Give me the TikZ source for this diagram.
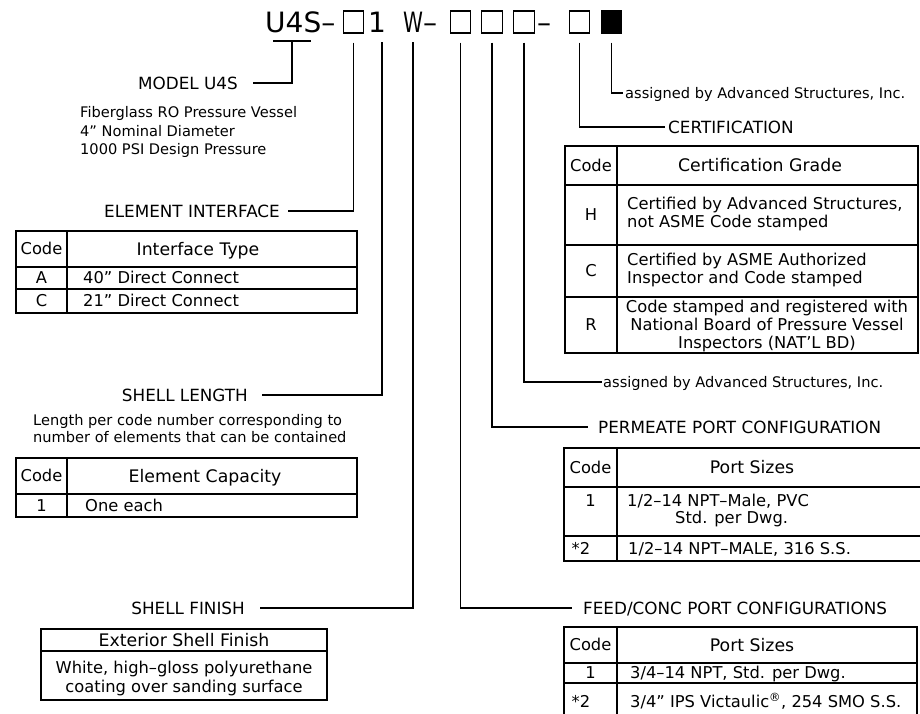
\documentclass[tikz,border=0pt]{standalone}
\usepackage{fontspec}
\setmainfont{DejaVu Sans}
\usepackage{graphicx}
\begin{document}
\begin{tikzpicture}[x=1pt,y=-1pt,
  ln/.style={line width=1.1pt},
  tbl/.style={line width=1.1pt},
  lbl/.style={font=\fontsize{16.8}{20}\selectfont, inner sep=0pt, text height=12.2pt, text depth=0pt},
  desc/.style={font=\fontsize{14.6}{18}\selectfont, inner sep=0pt, text height=10.6pt, text depth=0pt},
  tb/.style={font=\fontsize{16.3}{19}\selectfont, inner sep=0pt, text height=11.9pt, text depth=0pt},
  th/.style={font=\fontsize{17.3}{20}\selectfont, inner sep=0pt, text height=12.6pt, text depth=0pt},
  big/.style={font=\fontsize{28}{32}\selectfont, inner sep=0pt, text height=20.4pt, text depth=0pt},
  codebox/.style={draw, line width=1.1pt, minimum width=20.5pt, minimum height=22pt, inner sep=0pt},
  filledbox/.style={codebox, fill=black}
]
\useasboundingbox (0,0) rectangle (920,713);

% ---------- model code ----------
\node[big, anchor=west] (u4s) at (265,22) {U4S–};
\node[codebox] (b1) at (353.5,22) {};
\node[big] (one) at (377,22) {1};
\node[big, anchor=west] (w) at (403,22) {\scalebox{0.72}[1]{W}–};
\node[codebox] (b2) at (460.5,22) {};
\node[codebox] (b3) at (492,22) {};
\node[codebox] (b4) at (524,22) {};
\node[big] (dash) at (544,22) {–};
\node[codebox] (b5) at (579.5,22) {};
\node[filledbox] (b6) at (611.5,22) {};

\coordinate (tm) at (292,41);
\coordinate (tl) at (382,42);
\coordinate (tw) at (413,42);

% ---------- left labels ----------
\node[lbl, anchor=east] (model) at (238,83) {MODEL U4S};
\node[desc, anchor=west] (fib1) at (80,112) {Fiberglass RO Pressure Vessel};
\node[desc, anchor=west] (fib2) at (80,131) {4” Nominal Diameter};
\node[desc, anchor=west] (fib3) at (80,149) {1000 PSI Design Pressure};

\node[lbl, anchor=east] (ei) at (280,211) {ELEMENT INTERFACE};
\draw[tbl] (16,231) rectangle (357,313);
\draw[tbl] (16,267) -- (357,267) (16,289) -- (357,289) (67,231) -- (67,313);
\node[tb] (eic) at (41.5,249) {Code};
\node[th] (eih) at (198,249) {Interface Type};
\node[tb] (eia) at (41.5,278) {A};
\node[tb, anchor=west] (eiat) at (83,278) {40” Direct Connect};
\node[tb] (eicc) at (41.5,301) {C};
\node[tb, anchor=west] (eict) at (83,301) {21” Direct Connect};

\node[lbl, anchor=east] (sl) at (248,395) {SHELL LENGTH};
\node[desc, anchor=west] (sl1) at (33,420) {Length per code number corresponding to};
\node[desc, anchor=west] (sl2) at (33,437) {number of elements that can be contained};
\draw[tbl] (16,458) rectangle (357,517);
\draw[tbl] (16,494) -- (357,494) (67,458) -- (67,517);
\node[tb] (slc) at (41.5,476) {Code};
\node[th] (slh) at (205,476) {Element Capacity};
\node[tb] (sl1c) at (41.5,505.5) {1};
\node[tb, anchor=west] (sl1t) at (85,505.5) {One each};

\node[lbl, anchor=east] (sf) at (245,608) {SHELL FINISH};
\draw[tbl] (41,629) rectangle (327,700);
\draw[tbl] (41,651) -- (327,651);
\node[th] (sfh) at (184,640) {Exterior Shell Finish};
\node[tb] (sf1) at (184,668) {White, high–gloss polyurethane};
\node[tb] (sf2) at (184,687) {coating over sanding surface};

% ---------- right labels ----------
\node[desc, anchor=west] (as1) at (625,93) {assigned by Advanced Structures, Inc.};
\node[lbl, anchor=west] (cert) at (668,127) {CERTIFICATION};
\draw[tbl] (565,146) rectangle (918,353);
\draw[tbl] (565,185) -- (918,185) (565,245) -- (918,245) (565,297) -- (918,297) (617,146) -- (617,353);
\node[tb] (cc) at (591,165.5) {Code};
\node[th] (ch) at (760,165.5) {Certification Grade};
\node[tb] (chh) at (591,215) {H};
\node[tb, anchor=west] (ch1) at (627,204) {Certified by Advanced Structures,};
\node[tb, anchor=west] (ch2) at (627,222) {not ASME Code stamped};
\node[tb] (ccc) at (591,271) {C};
\node[tb, anchor=west] (cc1) at (627,260) {Certified by ASME Authorized};
\node[tb, anchor=west] (cc2) at (627,278) {Inspector and Code stamped};
\node[tb] (crr) at (591,325) {R};
\node[tb] (cr1) at (767,307) {Code stamped and registered with};
\node[tb] (cr2) at (767,325) {National Board of Pressure Vessel};
\node[tb] (cr3) at (767,343) {Inspectors (NAT’L BD)};

\node[desc, anchor=west] (as2) at (603,382) {assigned by Advanced Structures, Inc.};
\node[lbl, anchor=west] (perm) at (598,427) {PERMEATE PORT CONFIGURATION};
\draw[tbl] (930,448) -- (564,448) -- (564,561) -- (930,561);
\draw[tbl] (564,487) -- (930,487) (564,536) -- (930,536) (617,448) -- (617,561);
\node[tb] (pc) at (590.5,467.5) {Code};
\node[th] (ph) at (752,467.5) {Port Sizes};
\node[tb] (p1c) at (590.5,501) {1};
\node[tb, anchor=west] (p1a) at (627,501) {1/2–14 NPT–Male, PVC};
\node[tb, anchor=west] (p1b) at (675,518) {Std. per Dwg.};
\node[tb] (p2c) at (581,548.5) {*2};
\node[tb, anchor=west] (p2t) at (628,548.5) {1/2–14 NPT–MALE, 316 S.S.};

\node[lbl, anchor=west] (feed) at (583,608) {FEED/CONC PORT CONFIGURATIONS};
\draw[tbl] (564,627) rectangle (917,721);
\draw[tbl] (564,663) -- (917,663) (564,683) -- (917,683) (617,627) -- (617,721);
\node[tb] (fc) at (590.5,645) {Code};
\node[th] (fh) at (752,645) {Port Sizes};
\node[tb] (f1c) at (590.5,673) {1};
\node[tb, anchor=west] (f1t) at (630,673) {3/4–14 NPT, Std. per Dwg.};
\node[tb] (f2c) at (581,702) {*2};
\node[tb, anchor=west] (f2t) at (630,702) {3/4” IPS Victaulic\textsuperscript{®}, 254 SMO S.S.};

% ---------- leaders ----------
\draw[ln] ([xshift=-19pt]tm) -- ([xshift=19pt]tm);
\draw[ln] (tm) |- ([xshift=15pt]model.east);
\draw[ln] ([yshift=-9pt]b1.south) |- ([xshift=8pt]ei.east);
\draw[ln] (tl) |- ([xshift=14pt]sl.east);
\draw[ln] (tw) |- ([xshift=15pt]sf.east);
\draw[ln] ([yshift=-9pt]b2.south) |- ([xshift=-11pt]feed.west);
\draw[ln] ([yshift=-9pt]b3.south) |- ([xshift=-10pt]perm.west);
\draw[ln] ([yshift=-9pt]b4.south) |- ([xshift=-1.5pt]as2.west);
\draw[ln] ([yshift=-9pt]b5.south) |- ([xshift=-3pt]cert.west);
\draw[ln] ([yshift=-9pt]b6.south) |- ([xshift=-2pt]as1.west);
\end{tikzpicture}
\end{document}
